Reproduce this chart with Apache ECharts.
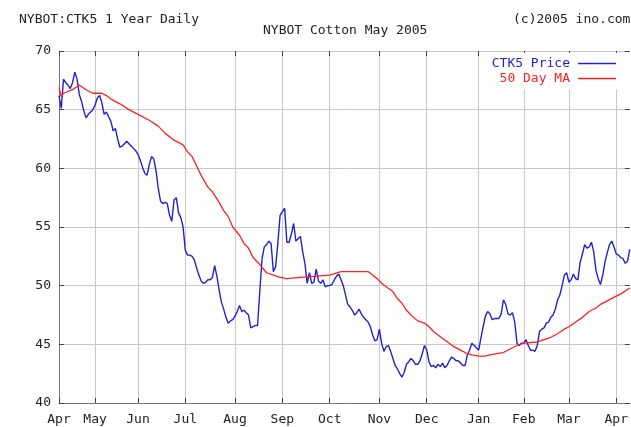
<!DOCTYPE html>
<html>
<head>
<meta charset="utf-8">
<script src="https://cdn.jsdelivr.net/npm/echarts@6.0.0/dist/echarts.min.js"></script>
<style>
html,body{margin:0;padding:0;background:#fff}
#chart{width:631px;height:427px}
</style>
</head>
<body>
<div id="chart"></div>
<script>
// NYBOT cotton, daily closes (one value per trading day)
var monthLabels = ['Apr', 'May', 'Jun', 'Jul', 'Aug', 'Sep', 'Oct', 'Nov', 'Dec', 'Jan', 'Feb', 'Mar', 'Apr'];
var monthStarts = [0, 16, 35, 56, 78, 99, 120, 142, 163, 186, 206, 226, 247];

var price = [
    66.2, 65.1, 67.6, 67.3, 67.1, 66.8, 67.3, 68.2, 67.6, 66.3,
    65.7, 64.9, 64.3, 64.6, 64.8, 65.0, 65.4, 66.0, 66.2, 65.6,
    64.6, 64.8, 64.4, 64.0, 63.2, 63.4, 62.5, 61.8, 61.9, 62.1,
    62.3, 62.1, 61.9, 61.7, 61.5, 61.2, 60.7, 60.1, 59.6, 59.4,
    60.3, 61.0, 60.8, 59.8, 58.3, 57.2, 57.0, 57.1, 57.0, 56.0,
    55.5, 57.3, 57.5, 56.2, 55.8, 55.0, 53.0, 52.6, 52.6, 52.5,
    52.2, 51.5, 50.9, 50.4, 50.2, 50.3, 50.5, 50.5, 50.7, 51.7,
    50.8, 49.6, 48.6, 48.0, 47.3, 46.8, 47.0, 47.1, 47.4, 47.8,
    48.3, 47.8, 47.9, 47.7, 47.5, 46.4, 46.5, 46.6, 46.6, 49.5,
    52.3, 53.3, 53.5, 53.8, 53.6, 51.2, 51.6, 53.6, 56.0, 56.3,
    56.6, 53.7, 53.7, 54.4, 55.3, 53.8, 54.0, 54.2, 52.9, 51.9,
    50.2, 51.1, 50.2, 50.3, 51.4, 50.4, 50.2, 50.5, 49.9, 50.0,
    50.0, 50.1, 50.5, 50.8, 51.0, 50.5, 50.0, 49.2, 48.4, 48.2,
    47.9, 47.5, 47.7, 48.0, 47.6, 47.3, 47.1, 46.9, 46.5, 45.8,
    45.3, 45.4, 46.3, 45.1, 44.4, 44.8, 44.9, 44.4, 43.8, 43.2,
    42.9, 42.5, 42.2, 42.6, 43.3, 43.5, 43.8, 43.6, 43.3, 43.3,
    43.6, 44.2, 44.9, 44.5, 43.5, 43.1, 43.2, 43.0, 43.3, 43.1,
    43.4, 43.0, 43.2, 43.6, 43.9, 43.8, 43.6, 43.6, 43.4, 43.2,
    43.2, 44.1, 44.5, 45.1, 44.9, 44.7, 44.5, 45.5, 46.5, 47.4,
    47.8, 47.6, 47.1, 47.2, 47.2, 47.2, 47.6, 48.8, 48.4, 47.6,
    47.5, 47.7, 46.9, 45.1, 44.9, 45.1, 45.1, 45.4, 44.9, 44.5,
    44.5, 44.4, 44.9, 46.1, 46.3, 46.4, 46.8, 46.9, 47.3, 47.5,
    48.0, 48.8, 49.2, 50.0, 50.9, 51.1, 50.3, 50.5, 51.0, 50.6,
    50.5, 52.0, 52.7, 53.5, 53.2, 53.3, 53.7, 52.9, 51.3, 50.6,
    50.1, 50.9, 52.0, 52.8, 53.5, 53.8, 53.3, 52.7, 52.6, 52.4,
    52.3, 51.9, 52.1, 53.1
];

// 50 day moving average, read at these trading days
var maDays = [
    0, 1, 2, 6, 9, 12, 15, 19, 21, 23, 27, 31, 35, 40, 44, 47, 51, 55, 57, 59,
    61, 63, 66, 68, 71, 73, 75, 77, 80, 82, 84, 86, 89, 92, 95, 98, 101, 107, 113, 120,
    125, 131, 137, 139, 141, 143, 145, 148, 150, 152, 154, 156, 159, 162, 164, 166, 168, 170, 173, 175,
    178, 181, 183, 186, 189, 191, 194, 197, 200, 203, 206, 212, 215, 218, 221, 224, 226, 229, 232, 235,
    238, 240, 243, 246, 249, 253
];
var maValues = [
    66.9, 66.1, 66.4, 66.7, 67.1, 66.7, 66.4, 66.4, 66.2, 65.9, 65.5, 65.0, 64.6, 64.1, 63.6, 63.0, 62.4, 62.0, 61.4, 61.0,
    60.2, 59.4, 58.4, 58.0, 57.1, 56.4, 55.9, 55.0, 54.3, 53.6, 53.2, 52.4, 51.8, 51.1, 50.9, 50.7, 50.6, 50.7, 50.8, 50.9,
    51.2, 51.2, 51.2, 50.9, 50.6, 50.2, 49.9, 49.5, 48.9, 48.5, 47.9, 47.5, 47.0, 46.8, 46.5, 46.1, 45.8, 45.5, 45.1, 44.8,
    44.5, 44.2, 44.1, 44.0, 44.0, 44.1, 44.2, 44.3, 44.6, 44.9, 45.1, 45.2, 45.4, 45.6, 45.9, 46.3, 46.5, 46.9, 47.3, 47.8,
    48.1, 48.4, 48.7, 49.0, 49.3, 49.8
];

var FONT = '"DejaVu Sans Mono", monospace';
var days = price.map(function (v, i) { return String(i); });
var isMonthStart = function (index) { return monthStarts.indexOf(index) >= 0; };
var maData = maDays.map(function (d, k) { return [d, maValues[k]]; });

var myChart = echarts.init(document.getElementById('chart'));

var option = {
    animation: false,
    backgroundColor: '#fff',
    textStyle: { fontFamily: FONT },
    graphic: [
        { type: 'text', x: 19, y: 20, style: { text: 'NYBOT:CTK5 1 Year Daily', font: '13px ' + FONT, fill: '#222', verticalAlign: 'middle' } },
        { type: 'text', x: 263, y: 31, style: { text: 'NYBOT Cotton May 2005', font: '13px ' + FONT, fill: '#222', verticalAlign: 'middle' } },
        { type: 'text', x: 513, y: 20, style: { text: '(c)2005 ino.com', font: '13px ' + FONT, fill: '#222', verticalAlign: 'middle' } }
    ],
    grid: { left: 59, top: 51, width: 573, height: 352 },
    legend: {
        orient: 'vertical',
        align: 'right',
        right: 11,
        top: 53,
        padding: 4,
        backgroundColor: '#fff',
        itemGap: 2,
        itemWidth: 38,
        itemHeight: 1.5,
        icon: 'rect',
        textStyle: { fontFamily: FONT, fontSize: 13, lineHeight: 13, padding: [0, 3, 0, 0] },
        data: [
            { name: 'CTK5 Price', textStyle: { color: '#2222cc' } },
            { name: '50 Day MA', textStyle: { color: '#ff2020' } }
        ]
    },
    xAxis: [{
        type: 'category',
        data: days,
        boundaryGap: false,
        axisLine: { lineStyle: { color: '#777', width: 1 } },
        axisTick: { inside: true, length: 5, interval: isMonthStart, lineStyle: { color: '#444' } },
        axisLabel: {
            interval: isMonthStart,
            showMinLabel: true,
            margin: 10,
            color: '#222',
            fontSize: 13,
            fontFamily: FONT,
            formatter: function (value, index) { return monthLabels[monthStarts.indexOf(index)]; }
        },
        splitLine: { show: true, interval: isMonthStart, lineStyle: { color: '#c8c8c8', width: 1 } }
    }, {
        type: 'category',
        data: days,
        position: 'top',
        boundaryGap: false,
        axisLine: { show: false },
        axisTick: { inside: true, length: 5, interval: isMonthStart, lineStyle: { color: '#444' } },
        axisLabel: { show: false },
        splitLine: { show: false }
    }],
    yAxis: [{
        type: 'value',
        min: 40,
        max: 70,
        interval: 5,
        axisLine: { show: true, lineStyle: { color: '#777', width: 1 } },
        axisTick: { show: true, inside: true, length: 5, lineStyle: { color: '#444' } },
        axisLabel: { margin: 8, color: '#222', fontSize: 13, fontFamily: FONT },
        splitLine: { lineStyle: { color: '#c8c8c8', width: 1 } }
    }, {
        type: 'value',
        position: 'right',
        min: 40,
        max: 70,
        interval: 5,
        axisLine: { show: false },
        axisTick: { show: true, inside: true, length: 5, lineStyle: { color: '#444' } },
        axisLabel: { show: false },
        splitLine: { show: false }
    }],
    series: [{
        name: 'CTK5 Price',
        type: 'line',
        data: price,
        symbol: 'none',
        lineStyle: { color: '#2222cc', width: 1.4 },
        itemStyle: { color: '#2222cc' }
    }, {
        name: '50 Day MA',
        type: 'line',
        data: maData,
        symbol: 'none',
        lineStyle: { color: '#ff2020', width: 1.3 },
        itemStyle: { color: '#ff2020' }
    }]
};

myChart.setOption(option);
</script>
</body>
</html>
